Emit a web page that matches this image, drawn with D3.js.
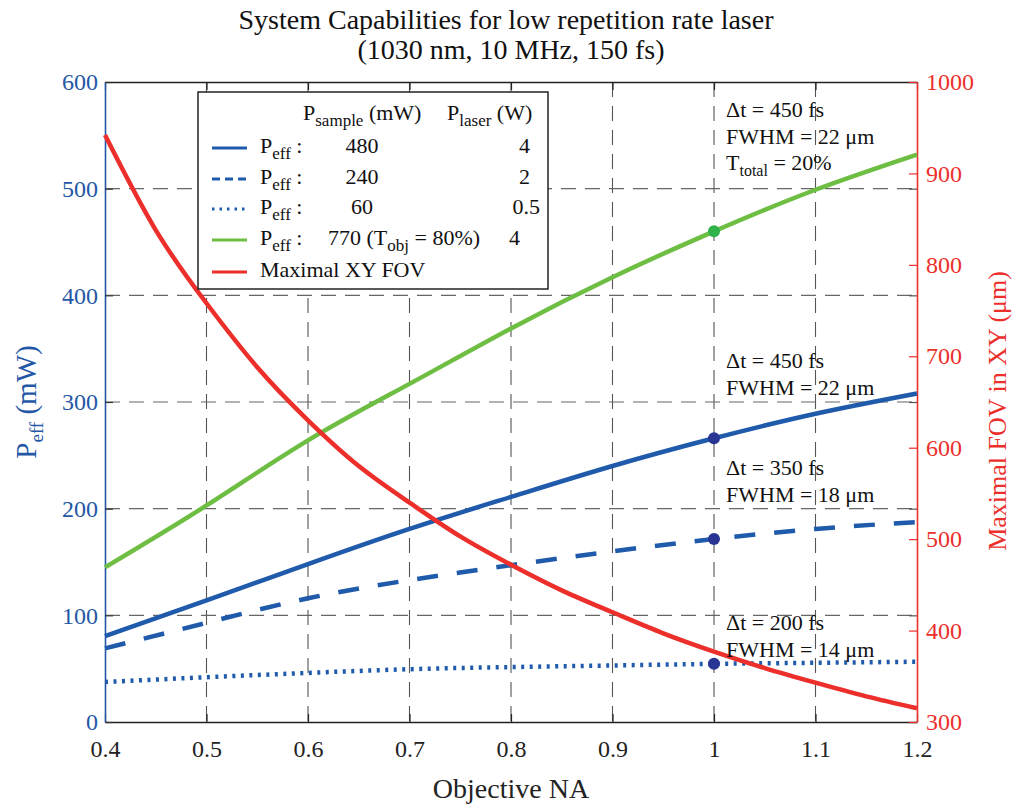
<!DOCTYPE html>
<html>
<head>
<meta charset="utf-8">
<script src="https://cdn.jsdelivr.net/npm/d3@7"></script>
<style>
  body { margin: 0; background: #fff; }
  svg, svg text { font-family: "Liberation Serif", "Times New Roman", serif; }
</style>
</head>
<body>
<svg id="chart" width="1012" height="806"></svg>
<script>
// ---- data ----
const na = [0.4, 0.5, 0.6, 0.7, 0.8, 0.9, 1.0, 1.1, 1.2];
const pEff480 = [80.5, 114, 148, 181, 211, 240, 266, 289, 308];
const pEff240 = [69, 93, 116, 133, 147, 160, 171.5, 181, 187.5];
const pEff60 = [37.5, 42, 46, 49.5, 51.5, 53, 54.5, 55.5, 56.5];
const pEff770 = [145, 203, 264, 317, 369, 417, 460, 499, 532];

const naFov = [0.4, 0.45, 0.5, 0.55, 0.6, 0.65, 0.7, 0.75, 0.8, 0.85, 0.9, 0.95, 1.0, 1.05, 1.1, 1.15, 1.2];
const fovXY = [942, 838, 758, 688, 630, 580, 540, 503, 472, 444, 420, 397, 377, 359, 343, 328, 315];

const markerNA = 1.0;

const xTicks = [0.4, 0.5, 0.6, 0.7, 0.8, 0.9, 1, 1.1, 1.2];
const leftTicks = [0, 100, 200, 300, 400, 500, 600];
const rightTicks = [300, 400, 500, 600, 700, 800, 900, 1000];

const legendSample = ["480", "240", "60", "770 (T_{obj} = 80%)"];
const legendLaser = ["4", "2", "0.5", "4"];

const notes = [
  ["Δt = 450 fs", "FWHM = 22 μm", "T_{total} = 20%"],
  ["Δt = 450 fs", "FWHM = 22 μm"],
  ["Δt = 350 fs", "FWHM = 18 μm"],
  ["Δt = 200 fs", "FWHM = 14 μm"]
];

// ---- colours ----
const blueAxis = "#2457a5";
const blueLine = "#1f5aab";
const redLine = "#ec2f2b";
const greenLine = "#6fbe44";
const navyDot = "#283593";
const serif = "Liberation Serif";

const svg = d3.select("#chart");
const plotL = 105, plotR = 917, plotT = 82, plotB = 722;

const x = d3.scaleLinear().domain([0.4, 1.2]).range([plotL, plotR]);
const yL = d3.scaleLinear().domain([0, 600]).range([plotB, plotT]);
const yR = d3.scaleLinear().domain([300, 1000]).range([plotB, plotT]);

// rich text with _{sub}
function rich(sel, str, size, subSize, shift) {
  const parts = str.split(/(_\{[^}]*\})/).filter(s => s.length);
  let down = false;
  parts.forEach(p => {
    const t = sel.append("tspan");
    if (p.startsWith("_{")) {
      t.text(p.slice(2, -1)).attr("font-size", subSize).attr("dy", shift);
      down = true;
    } else {
      t.text(p).attr("font-size", size);
      if (down) { t.attr("dy", -shift); down = false; }
    }
  });
}

// ---- grid ----
const grid = svg.append("g").attr("stroke", "#555").attr("stroke-width", 1.1)
  .attr("stroke-dasharray", "15,9");
grid.selectAll(".gx").data(xTicks.slice(1, -1)).join("line")
  .attr("x1", d => x(d)).attr("x2", d => x(d)).attr("y1", plotT).attr("y2", plotB);
grid.selectAll(".gy").data(leftTicks.slice(1, -1)).join("line")
  .attr("stroke", "#666")
  .attr("x1", plotL).attr("x2", plotR).attr("y1", d => yL(d)).attr("y2", d => yL(d));

// ---- axes ----
const fs = 24;
function styleText(g, color) {
  g.attr("font-family", serif).style("font-family", serif);
  g.selectAll("text").attr("font-size", fs).attr("fill", color)
    .style("font-family", serif);
}

const gx = svg.append("g").attr("transform", `translate(0,${plotB})`)
  .call(d3.axisBottom(x).tickValues(xTicks).tickFormat(d3.format("~g")).tickSizeInner(-8).tickSizeOuter(0).tickPadding(18));
gx.select(".domain").attr("stroke", "#222").attr("stroke-width", 1.4);
gx.selectAll(".tick line").attr("stroke", "#222").attr("stroke-width", 1.2);
styleText(gx, "#222");

const gTop = svg.append("g").attr("transform", `translate(0,${plotT})`)
  .call(d3.axisTop(x).tickValues(xTicks).tickFormat("").tickSizeInner(-8).tickSizeOuter(0));
gTop.select(".domain").attr("stroke", "#222").attr("stroke-width", 1.4);
gTop.selectAll(".tick line").attr("stroke", "#222").attr("stroke-width", 1.2);

const gl = svg.append("g").attr("transform", `translate(${plotL},0)`)
  .call(d3.axisLeft(yL).tickValues(leftTicks).tickFormat(d3.format("d")).tickSizeInner(-8).tickSizeOuter(0).tickPadding(7));
gl.select(".domain").attr("stroke", blueAxis).attr("stroke-width", 1.6);
gl.selectAll(".tick line").attr("stroke", "#333").attr("stroke-width", 1.2);
styleText(gl, blueAxis);

// mirrored left ticks on the right side
svg.append("g").attr("transform", `translate(${plotR},0)`)
  .call(d3.axisRight(yL).tickValues(leftTicks).tickFormat("").tickSizeInner(-8).tickSizeOuter(0))
  .call(g => g.select(".domain").remove())
  .selectAll(".tick line").attr("stroke", "#555").attr("stroke-width", 1.2);

const gr = svg.append("g").attr("transform", `translate(${plotR},0)`)
  .call(d3.axisRight(yR).tickValues(rightTicks).tickFormat(d3.format("d")).tickSizeInner(-8).tickSizeOuter(0).tickPadding(9));
gr.select(".domain").attr("stroke", redLine).attr("stroke-width", 1.6);
gr.selectAll(".tick line").attr("stroke", redLine).attr("stroke-width", 1.2);
styleText(gr, redLine);

// ---- curves ----
const lineL = d3.line().x((d, i) => x(na[i])).y(d => yL(d)).curve(d3.curveNatural);
const lineR = d3.line().x((d, i) => x(naFov[i])).y(d => yR(d)).curve(d3.curveNatural);

const series = [
  { v: pEff770, color: greenLine, dash: null },
  { v: pEff480, color: blueLine, dash: null },
  { v: pEff240, color: blueLine, dash: "21,19" },
  { v: pEff60, color: blueLine, dash: "3,5.5" }
];
series.forEach(s => {
  svg.append("path").attr("d", lineL(s.v)).attr("fill", "none")
    .attr("stroke", s.color).attr("stroke-width", 4.5)
    .attr("stroke-dasharray", s.dash);
});
svg.append("path").attr("d", lineR(fovXY)).attr("fill", "none")
  .attr("stroke", redLine).attr("stroke-width", 4.5);

// markers at NA = 1
const mi = na.indexOf(markerNA);
const markers = [
  { v: pEff770[mi], c: "#2fb24a" },
  { v: pEff480[mi], c: navyDot },
  { v: pEff240[mi], c: navyDot },
  { v: pEff60[mi], c: navyDot }
];
svg.selectAll(".mk").data(markers).join("circle")
  .attr("cx", x(markerNA)).attr("cy", d => yL(d.v)).attr("r", 6).attr("fill", d => d.c);

// ---- annotations ----
const noteY = [117, 368, 475, 630];
notes.forEach((lines, k) => {
  lines.forEach((ln, j) => {
    const t = svg.append("text").attr("x", x(markerNA) + 12).attr("y", noteY[k] + j * 26.5)
      .attr("fill", "#111");
    rich(t, ln, 22, 16, 6);
  });
});

// ---- titles ----
svg.append("text").attr("x", 506).attr("y", 29).attr("text-anchor", "middle")
  .attr("font-size", 28).attr("fill", "#111").text("System Capabilities for low repetition rate laser");
svg.append("text").attr("x", 511).attr("y", 59).attr("text-anchor", "middle")
  .attr("font-size", 28).attr("fill", "#111").text("(1030 nm, 10 MHz, 150 fs)");

svg.append("text").attr("x", 511).attr("y", 798).attr("text-anchor", "middle")
  .attr("font-size", 28).attr("fill", "#222").text("Objective NA");

const yl = svg.append("text").attr("transform", "translate(36,402) rotate(-90)")
  .attr("text-anchor", "middle").attr("fill", blueAxis);
rich(yl, "P_{eff} (mW)", 29, 19, 7);

svg.append("text").attr("transform", "translate(1006,411) rotate(-90)")
  .attr("text-anchor", "middle").attr("font-size", 26).attr("fill", redLine)
  .text("Maximal FOV in XY (μm)");

// ---- legend ----
const lg = svg.append("g");
lg.append("rect").attr("x", 198).attr("y", 92).attr("width", 350).attr("height", 197)
  .attr("fill", "#fff").attr("stroke", "#222").attr("stroke-width", 1.5);
const h1 = lg.append("text").attr("x", 303).attr("y", 120).attr("fill", "#111");
rich(h1, "P_{sample} (mW)", 22, 17, 6);
const h2 = lg.append("text").attr("x", 447).attr("y", 120).attr("fill", "#111");
rich(h2, "P_{laser} (W)", 22, 17, 6);

const rowY = [153, 184, 214, 245, 277];
const legendStyles = [
  { c: blueLine, dash: null },
  { c: blueLine, dash: "8,5" },
  { c: blueLine, dash: "2.5,5" },
  { c: greenLine, dash: null },
  { c: redLine, dash: null }
];
const laserX = [530, 530, 540, 520];
legendStyles.forEach((s, i) => {
  lg.append("line").attr("x1", 212).attr("x2", 247)
    .attr("y1", rowY[i] - 5).attr("y2", rowY[i] - 5)
    .attr("stroke", s.c).attr("stroke-width", 3).attr("stroke-dasharray", s.dash);
  if (i < 4) {
    const t = lg.append("text").attr("x", 260).attr("y", rowY[i]).attr("fill", "#111");
    rich(t, "P_{eff} :", 22, 17, 6);
    const v = lg.append("text").attr("y", rowY[i]).attr("fill", "#111");
    if (i < 3) v.attr("x", 362).attr("text-anchor", "middle");
    else v.attr("x", 328);
    rich(v, legendSample[i], 22, 17, 6);
    lg.append("text").attr("x", laserX[i]).attr("y", rowY[i]).attr("text-anchor", "end")
      .attr("font-size", 22).attr("fill", "#111").text(legendLaser[i]);
  } else {
    lg.append("text").attr("x", 260).attr("y", rowY[i]).attr("font-size", 22)
      .attr("fill", "#111").text("Maximal XY FOV");
  }
});
</script>
</body>
</html>
